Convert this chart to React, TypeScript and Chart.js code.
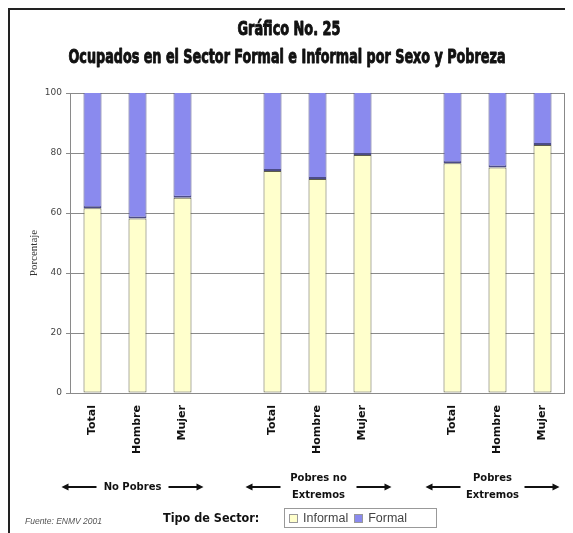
import React, { useEffect, useRef } from "react";
import { Chart, registerables } from "chart.js";

Chart.register(...registerables);

const categories = ["Total", "Hombre", "Mujer", "", "Total", "Hombre", "Mujer", "", "Total", "Hombre", "Mujer"];
const informal = [61.6, 58.2, 65.1, null, 74.0, 71.3, 79.3, null, 76.6, 75.2, 82.7];
const formal = [38.4, 41.8, 34.9, null, 26.0, 28.7, 20.7, null, 23.4, 24.8, 17.3];
const groupLabels = [["No Pobres"], ["Pobres no", "Extremos"], ["Pobres", "Extremos"]];
const groupCenterIndex = [1, 5, 9];
const yTicks = [0, 20, 40, 60, 80, 100];
const titleLines = ["Gráfico No. 25", "Ocupados en el Sector Formal e Informal por Sexo y Pobreza"];
const yTitle = "Porcentaje";
const seriesNames = ["Informal", "Formal"];

const INFORMAL_COLOR = "#ffffcc";
const FORMAL_COLOR = "#8a8aee";
const TITLE_FONT = "'Liberation Sans Narrow', 'DejaVu Sans Condensed', sans-serif";

function drawFitted(ctx: CanvasRenderingContext2D, text: string, cx: number, cy: number, font: string, targetW: number) {
  ctx.font = font;
  const w = ctx.measureText(text).width;
  const sx = targetW / w;
  ctx.save();
  ctx.translate(cx, cy);
  ctx.scale(sx, 1);
  ctx.textAlign = "center";
  ctx.textBaseline = "middle";
  ctx.lineWidth = 0.9;
  ctx.lineJoin = "round";
  ctx.strokeStyle = ctx.fillStyle as string;
  ctx.strokeText(text, 0, 0);
  ctx.fillText(text, 0, 0);
  ctx.restore();
}

const groupShift = [-5, 1, -5];
const groupHalf = [71, 73, 67];

const extras = {
  id: "extras",
  afterDraw(chart: any) {
    const ctx: CanvasRenderingContext2D = chart.ctx;
    const area = chart.chartArea;
    const xs = chart.scales.x;
    ctx.save();
    // titles
    ctx.fillStyle = "#111";
    drawFitted(ctx, titleLines[0], 279, 20, `bold 19px ${TITLE_FONT}`, 103);
    drawFitted(ctx, titleLines[1], 277, 48, `bold 19px ${TITLE_FONT}`, 437);

    // y title
    ctx.save();
    ctx.translate(24, (area.top + area.bottom) / 2 + 10);
    ctx.rotate(-Math.PI / 2);
    ctx.font = "11px 'Liberation Serif', serif";
    ctx.fillStyle = "#333";
    ctx.textAlign = "center";
    ctx.textBaseline = "middle";
    ctx.fillText(yTitle, 0, 0);
    ctx.restore();

    // right frame line
    ctx.strokeStyle = "#888";
    ctx.lineWidth = 1;
    ctx.beginPath();
    ctx.moveTo(Math.round(area.right) - 0.5, area.top);
    ctx.lineTo(Math.round(area.right) - 0.5, area.bottom);
    ctx.stroke();

    // group labels with arrows
    const ay = 477;
    groupLabels.forEach((lines, gi) => {
      const cx = xs.getPixelForValue(groupCenterIndex[gi]) + groupShift[gi];
      const half = groupHalf[gi];
      ctx.fillStyle = "#111";
      ctx.font = "bold 10px 'DejaVu Sans', sans-serif";
      ctx.textAlign = "center";
      ctx.textBaseline = "middle";
      if (lines.length === 1) {
        ctx.fillText(lines[0], cx, ay);
      } else {
        ctx.fillText(lines[0], cx, ay - 9);
        ctx.fillText(lines[1], cx, ay + 8);
      }
      ctx.strokeStyle = "#111";
      ctx.lineWidth = 2;
      [-1, 1].forEach((d) => {
        const outer = cx + d * half;
        const inner = cx + d * (half - 35);
        ctx.beginPath();
        ctx.moveTo(inner, ay);
        ctx.lineTo(outer - d * 4, ay);
        ctx.stroke();
        ctx.beginPath();
        ctx.moveTo(outer, ay);
        ctx.lineTo(outer - d * 7, ay - 3.5);
        ctx.lineTo(outer - d * 7, ay + 3.5);
        ctx.closePath();
        ctx.fill();
      });
    });
    ctx.restore();
  },
};

export default function App() {
  const ref = useRef<HTMLCanvasElement>(null);
  useEffect(() => {
    if (!ref.current) return;
    const chart = new Chart(ref.current, {
      type: "bar",
      data: {
        labels: categories,
        datasets: [
          {
            label: seriesNames[0],
            data: informal as any,
            backgroundColor: INFORMAL_COLOR,
            borderColor: "#5f5f48",
            borderWidth: 1,
            borderSkipped: false,
          },
          {
            label: seriesNames[1],
            data: formal as any,
            backgroundColor: FORMAL_COLOR,
            borderColor: "#4c4c88",
            borderWidth: { left: 1, right: 1, top: 0, bottom: 2 },
            borderSkipped: false,
          },
        ],
      },
      options: {
        responsive: false,
        animation: false,
        layout: { padding: { top: 83, right: 8, left: 0, bottom: 0 } },
        datasets: { bar: { barPercentage: 0.4, categoryPercentage: 1 } },
        plugins: {
          legend: { display: false },
          title: { display: false },
          tooltip: { enabled: false },
        },
        scales: {
          x: {
            stacked: true,
            grid: { display: false },
            border: { display: false },
            ticks: {
              autoSkip: false,
              maxRotation: 90,
              minRotation: 90,
              padding: 4,
              color: "#111",
              font: { family: "'DejaVu Sans', sans-serif", size: 11, weight: "bold" },
            },
            afterFit: (s: any) => {
              s.height = 140;
            },
          },
          y: {
            stacked: true,
            min: 0,
            max: 100,
            afterBuildTicks: (s: any) => {
              s.ticks = yTicks.map((v) => ({ value: v }));
            },
            grid: { color: "#8a8a8a", lineWidth: 1, tickLength: 4, drawTicks: true },
            border: { display: true, color: "#8a8a8a" },
            ticks: {
              padding: 4,
              color: "#444",
              font: { family: "'DejaVu Sans', sans-serif", size: 9 },
            },
            afterFit: (s: any) => {
              s.width = 60;
            },
          },
        },
      } as any,
      plugins: [extras],
    });
    return () => chart.destroy();
  }, []);

  const legendSwatch = (color: string): React.CSSProperties => ({
    display: "inline-block",
    width: 7,
    height: 7,
    background: color,
    border: "1px solid #999",
    marginRight: 5,
    verticalAlign: "middle",
  });

  return (
    <div>
      <style>{`html,body{overflow:hidden}`}</style>
      <div
        style={{
          position: "relative",
          width: 563,
          height: 523,
          borderLeft: "2px solid #222",
          borderTop: "2px solid #222",
        }}
      >
        <canvas ref={ref} width={563} height={523} style={{ display: "block" }} />
        <div
          style={{
            position: "absolute",
            left: 15,
            top: 506,
            font: "italic 8.5px 'Liberation Sans', Arial, sans-serif",
            color: "#555",
            whiteSpace: "nowrap",
          }}
        >
          Fuente: ENMV 2001
        </div>
        <div
          style={{
            position: "absolute",
            left: 153,
            top: 500,
            font: "bold 12.5px 'DejaVu Sans Condensed', 'DejaVu Sans', sans-serif",
            color: "#111",
            whiteSpace: "nowrap",
          }}
        >
          Tipo de Sector:
        </div>
        <div
          style={{
            position: "absolute",
            left: 274,
            top: 498,
            width: 153,
            height: 20,
            border: "1px solid #999",
            font: "12.5px 'Liberation Sans', Arial, sans-serif",
            color: "#444",
            whiteSpace: "nowrap",
            lineHeight: "19px",
            paddingLeft: 4,
            boxSizing: "border-box",
          }}
        >
          <span style={legendSwatch(INFORMAL_COLOR)} />
          <span style={{ verticalAlign: "middle", marginRight: 6 }}>{seriesNames[0]}</span>
          <span style={legendSwatch(FORMAL_COLOR)} />
          <span style={{ verticalAlign: "middle" }}>{seriesNames[1]}</span>
        </div>
      </div>
    </div>
  );
}
